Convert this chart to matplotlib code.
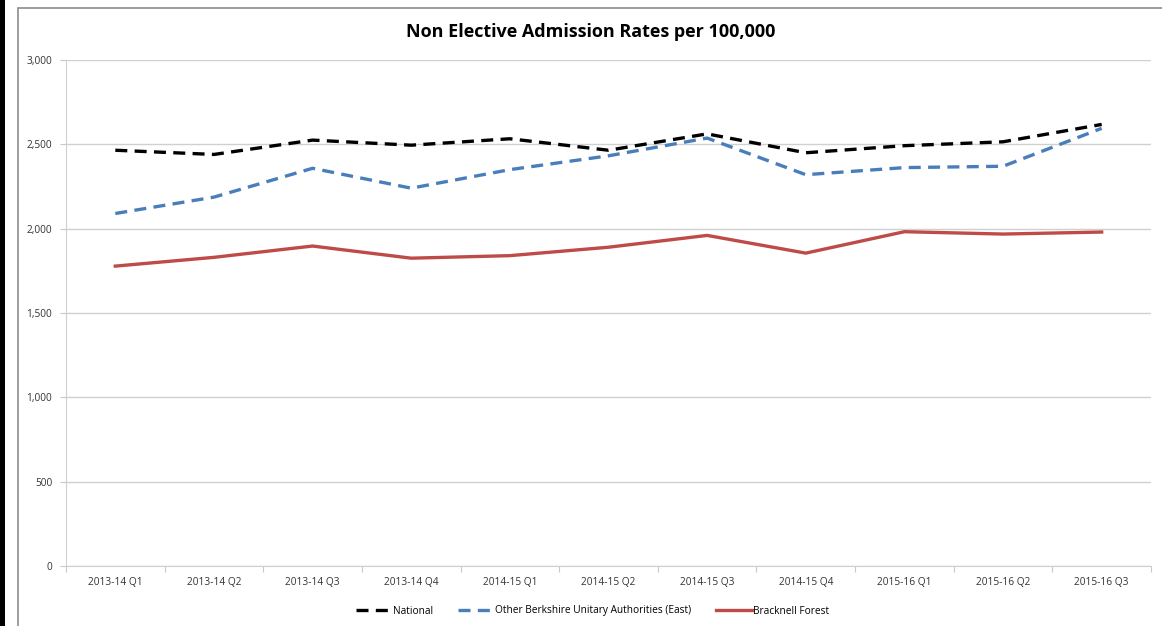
import numpy as np
import matplotlib.pyplot as plt
from matplotlib.patches import Rectangle
from matplotlib.lines import Line2D

plt.rcParams['font.family'] = ['Open Sans', 'DejaVu Sans']

# quarters on the x axis
quarters = ['2013-14 Q1', '2013-14 Q2', '2013-14 Q3', '2013-14 Q4',
            '2014-15 Q1', '2014-15 Q2', '2014-15 Q3', '2014-15 Q4',
            '2015-16 Q1', '2015-16 Q2', '2015-16 Q3']

# admission rates per 100,000
national = [2465, 2440, 2525, 2495, 2533, 2465, 2562, 2450, 2492, 2515, 2618]
berkshire_east = [2090, 2187, 2358, 2240, 2350, 2432, 2537, 2320, 2362, 2370, 2595]
bracknell = [1778, 1830, 1897, 1825, 1840, 1890, 1960, 1855, 1982, 1968, 1980]

y_ticks = [0, 500, 1000, 1500, 2000, 2500, 3000]

fig = plt.figure(figsize=(11.62, 6.26), dpi=100)
ax = fig.add_axes([66 / 1162, 1 - 566 / 626, (1151 - 66) / 1162, (566 - 60) / 626])

x = np.arange(len(quarters))
ax.plot(x, national, color='black', lw=2.4, dashes=(3.6, 2.2), solid_capstyle='butt',
        label='National')
ax.plot(x, berkshire_east, color='#4A7EBB', lw=2.4, dashes=(3.6, 2.2),
        label='Other Berkshire Unitary Authorities (East)')
ax.plot(x, bracknell, color='#BE4B48', lw=2.4, label='Bracknell Forest')

ax.set_xlim(-0.5, len(quarters) - 0.5)
ax.set_ylim(0, 3000)
ax.set_yticks(y_ticks)
ax.set_yticklabels([f'{v:,}' for v in y_ticks], fontsize=7.3, color='#333333')
ax.yaxis.grid(True, color='#D0D0D0', lw=1)
ax.set_axisbelow(True)

# ticks at category boundaries, labels at centres
ax.set_xticks(np.arange(len(quarters) + 1) - 0.5)
ax.set_xticklabels([])
ax.set_xticks(x, minor=True)
ax.set_xticklabels(quarters, minor=True, fontsize=7.3, color='#333333')
ax.tick_params(axis='x', which='major', length=4, color='#C8C8C8', direction='out')
ax.tick_params(axis='x', which='minor', length=0, pad=8)
ax.tick_params(axis='y', length=4, color='#C8C8C8', pad=6)

for s in ['top', 'right']:
    ax.spines[s].set_visible(False)
for s in ['left', 'bottom']:
    ax.spines[s].set_color('#D0D0D0')

fig.text(0.508, 1 - 32 / 626, 'Non Elective Admission Rates per 100,000',
         ha='center', va='center', fontsize=13, fontweight='bold')

handles = [Line2D([], [], color='black', lw=2.4, dashes=(3.6, 2.2)),
           Line2D([], [], color='#4A7EBB', lw=2.4, dashes=(3.6, 2.2)),
           Line2D([], [], color='#BE4B48', lw=2.4)]
labels = ['National', 'Other Berkshire Unitary Authorities (East)', 'Bracknell Forest']
fig.legend(handles, labels, loc='center', bbox_to_anchor=(0.51, 1 - 611 / 626), ncol=3,
           frameon=False, fontsize=7.3, handlelength=3.5, handletextpad=0.1,
           columnspacing=2.5)

# chart frame and page edge
fig.patches.append(Rectangle((18 / 1162, -0.1), 1.2, 1 - 8 / 626 + 0.1,
                             transform=fig.transFigure, fill=False,
                             edgecolor='#8C8C8C', lw=1.2))
fig.patches.append(Rectangle((0, 0), 5 / 1162, 1, transform=fig.transFigure,
                             facecolor='black', edgecolor='none'))

fig.savefig('out.png', dpi=100)
